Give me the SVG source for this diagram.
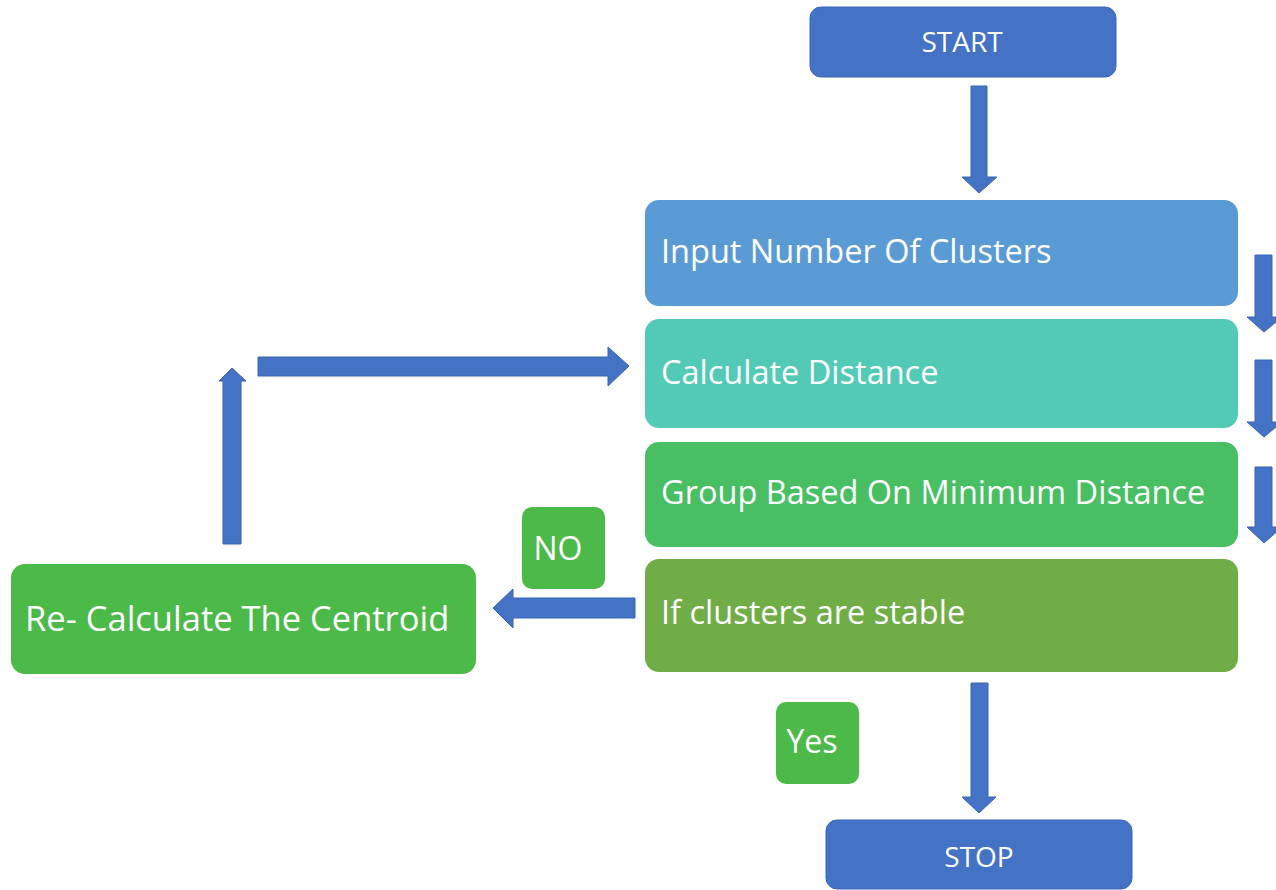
<svg xmlns="http://www.w3.org/2000/svg" width="1276" height="890" viewBox="0 0 1276 890">
<style>
.t{font-family:"Open Sans","Liberation Sans",sans-serif;fill:#fff}
.arr{fill:#4472C4;stroke:#3A64B0;stroke-width:1}
</style>
<rect width="1276" height="890" fill="#fff"/>
<g id="start">
<rect x="810" y="7" width="306" height="70" rx="11" fill="#4472C4" stroke="#3B66B5" stroke-width="1"/>
<text class="t" x="962" y="52" font-size="28" text-anchor="middle">START</text>
</g>
<g id="input">
<rect x="645" y="200" width="593" height="106" rx="14" fill="#5B9BD5"/>
<text class="t" x="661" y="263" font-size="32.5">Input Number Of Clusters</text>
</g>
<g id="calc">
<rect x="645" y="319" width="593" height="109" rx="14" fill="#53CAB6"/>
<text class="t" x="661" y="384" font-size="32.5">Calculate Distance</text>
</g>
<g id="group">
<rect x="645" y="442" width="593" height="105" rx="14" fill="#48BF63"/>
<text class="t" x="661" y="504" font-size="32.5">Group Based On Minimum Distance</text>
</g>
<g id="stable">
<rect x="645" y="559" width="593" height="113" rx="14" fill="#70AD47"/>
<text class="t" x="661" y="624" font-size="32.5">If clusters are stable</text>
</g>
<g id="recalc">
<rect x="11" y="564" width="465" height="110" rx="14" fill="#4BBA48"/>
<text class="t" x="25" y="631" font-size="34.5">Re- Calculate The Centroid</text>
</g>
<g id="no">
<rect x="522" y="507" width="83" height="82" rx="10" fill="#4BBA48"/>
<text class="t" x="558" y="560" font-size="32" text-anchor="middle">NO</text>
</g>
<g id="yes">
<rect x="776" y="702" width="83" height="82" rx="10" fill="#4BBA48"/>
<text class="t" x="812" y="753" font-size="32" text-anchor="middle">Yes</text>
</g>
<g id="stop">
<rect x="826" y="820" width="306" height="69" rx="11" fill="#4472C4" stroke="#3B66B5" stroke-width="1"/>
<text class="t" x="979" y="867" font-size="28" text-anchor="middle">STOP</text>
</g>
<g id="connectors">
<polygon class="arr" points="971,86 987,86 987,177 997,177 979,193 962,177 971,177"/>
<polygon class="arr" points="1255,255 1272,255 1272,317 1282,317 1264,332 1247,317 1255,317"/>
<polygon class="arr" points="1255,360 1272,360 1272,422 1282,422 1264,437 1247,422 1255,422"/>
<polygon class="arr" points="1255,467 1272,467 1272,527 1282,527 1264,543 1247,527 1255,527"/>
<polygon class="arr" points="635,598 635,618 513,618 513,628 493,608 513,589 513,598"/>
<polygon class="arr" points="223,544 241,544 241,381 246,381 232,368 219,381 223,381"/>
<polygon class="arr" points="258,357 608,357 608,347 629,366 608,386 608,376 258,376"/>
<polygon class="arr" points="971,683 988,683 988,797 996,797 979,813 962,797 971,797"/>
</g>
</svg>
